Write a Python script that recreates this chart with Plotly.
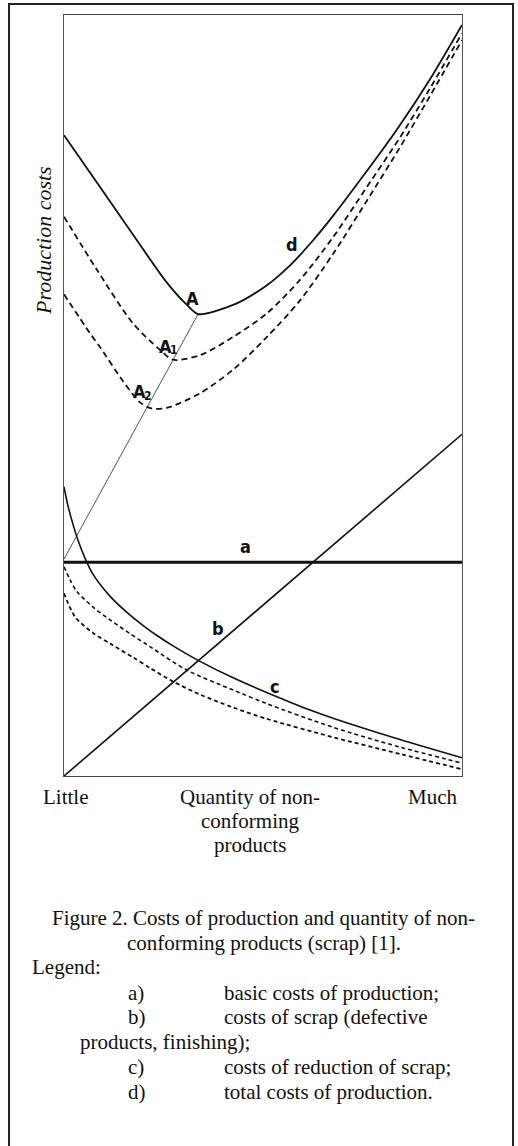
import plotly.graph_objects as go

# ---------------- data (conceptual units 0..100) ----------------
d_x = [0, 9.05, 19.1, 25.9, 30.9, 33.7, 42.5, 51.0, 56.8, 62.6, 67.6, 75.1, 83.7, 92.0, 100]
d_y = [84.2, 77.4, 69.8, 64.8, 61.9, 60.7, 61.9, 64.5, 67.1, 70.4, 73.6, 78.8, 85.0, 91.6, 98.7]

d1_x = [0, 8.3, 17.3, 24.1, 27.4, 34.2, 42.5, 51.0, 59.3, 67.6, 76.1, 84.4, 92.0, 100]
d1_y = [73.5, 66.5, 59.5, 56.0, 54.7, 55.3, 57.7, 60.8, 65.2, 70.8, 77.4, 83.9, 90.4, 97.6]

d2_x = [0, 6.5, 9.0, 14.8, 19.1, 22.0, 26.0, 34.2, 42.5, 51.0, 59.3, 67.6, 76.1, 84.4, 92.0, 100]
d2_y = [63.3, 58.2, 56.4, 51.9, 49.1, 48.3, 48.4, 50.3, 53.4, 57.7, 62.5, 68.6, 75.6, 82.6, 89.4, 96.7]

c_x = [0, 1.0, 2.3, 3.5, 5.3, 7.3, 11.6, 15.8, 19.8, 24.1, 27.4, 33.7, 42.5, 53.5, 60.1, 67.6, 84.4, 100]
c_y = [38.0, 35.5, 33.0, 31.0, 28.6, 26.5, 23.6, 21.5, 19.8, 18.2, 17.1, 15.2, 12.9, 10.4, 9.0, 7.6, 4.8, 2.4]

c1_x = [0, 1.5, 3.3, 7.3, 11.6, 16.6, 21.6, 30.9, 42.5, 51.0, 67.6, 84.4, 100]
c1_y = [27.5, 25.8, 24.2, 22.2, 20.5, 18.7, 17.0, 13.9, 11.3, 9.5, 6.4, 3.8, 1.7]

c2_x = [0, 2.8, 7.3, 11.6, 17.3, 21.6, 27.1, 34.2, 42.5, 51.0, 67.6, 84.4, 100]
c2_y = [24.0, 20.9, 18.8, 17.4, 15.6, 14.2, 12.5, 10.7, 9.0, 7.5, 5.1, 2.9, 0.9]

a_x = [0, 100]
a_y = [28.1, 28.1]

b_x = [0, 100]
b_y = [0, 44.9]

opt_x = [0, 33.7]
opt_y = [28.5, 60.7]

curve_labels = ["A", "A", "A", "d", "a", "b", "c"]
curve_label_x = [32.4, 25.6, 19.0, 57.3, 45.7, 38.7, 53.0]
curve_label_y = [62.7, 56.5, 50.5, 69.8, 30.2, 19.4, 11.8]
sub_labels = ["1", "2"]
sub_label_x = [27.6, 21.0]
sub_label_y = [56.0, 50.0]

x_tick_vals = [0.5, 46.7, 92.7]
x_tick_text = ["Little", "Quantity of non-<br>conforming<br>products", "Much"]
y_title = "Production costs"

caption_lines = ["Figure 2. Costs of production and quantity of non-",
                 "conforming products (scrap) [1]."]
legend_title = "Legend:"
legend_keys = ["a)", "b)", "c)", "d)"]
legend_texts = ["basic costs of production;",
                "costs of scrap (defective",
                "costs of reduction of scrap;",
                "total costs of production."]
legend_wrap = "products, finishing);"

# ---------------- layout geometry ----------------
W, H = 518, 1146
L, R, T, B = 64, 462, 15, 776


def px(xp):
    return (xp - L) / (R - L)


def py(yp):
    return (B - yp) / (B - T)


INK = "#111111"
SERIF = "Liberation Serif, Times New Roman, serif"
NARROW = "Liberation Sans Narrow, Arial Narrow, DejaVu Sans Condensed, Liberation Sans, sans-serif"

fig = go.Figure()


def add_line(x, y, width, dash="solid", color=INK, spline=True):
    fig.add_trace(go.Scatter(
        x=x, y=y, mode="lines",
        line=dict(color=color, width=width, dash=dash,
                  shape="spline" if spline else "linear", smoothing=0.8),
        hoverinfo="skip", showlegend=False))


add_line(opt_x, opt_y, 1, color="#555555", spline=False)
add_line(a_x, a_y, 3, spline=False)
add_line(b_x, b_y, 1.6, spline=False)
add_line(d_x, d_y, 1.8)
add_line(d1_x, d1_y, 1.8, dash="6px,4px")
add_line(d2_x, d2_y, 1.8, dash="6px,4px")
add_line(c_x, c_y, 1.6)
add_line(c1_x, c1_y, 1.6, dash="4px,3px")
add_line(c2_x, c2_y, 1.8, dash="4px,3px")

annotations = []
for t, xv, yv in zip(curve_labels, curve_label_x, curve_label_y):
    annotations.append(dict(x=xv, y=yv, xref="x", yref="y", text="<b>" + t + "</b>",
                            showarrow=False, font=dict(family=NARROW, size=18, color=INK),
                            xanchor="center", yanchor="middle"))
for t, xv, yv in zip(sub_labels, sub_label_x, sub_label_y):
    annotations.append(dict(x=xv, y=yv, xref="x", yref="y", text="<b>" + t + "</b>",
                            showarrow=False, font=dict(family=NARROW, size=12, color=INK),
                            xanchor="center", yanchor="middle"))

# x tick labels (one annotation per line for tight spacing)
for xv, t in zip(x_tick_vals, x_tick_text):
    for i, line in enumerate(t.split("<br>")):
        annotations.append(dict(x=xv, y=py(797 + 24 * i), xref="x", yref="paper", text=line,
                                showarrow=False, font=dict(family=SERIF, size=21, color=INK),
                                xanchor="center", yanchor="middle"))

# y title
annotations.append(dict(x=px(43), y=py(241), xref="paper", yref="paper",
                        text="<i>" + y_title + "</i>", textangle=-90, showarrow=False,
                        font=dict(family=SERIF, size=22, color=INK),
                        xanchor="center", yanchor="middle"))

# caption
for i, line in enumerate(caption_lines):
    annotations.append(dict(x=px(263.5), y=py(918 + 25 * i), xref="paper", yref="paper",
                            text=line, showarrow=False,
                            font=dict(family=SERIF, size=21, color=INK),
                            xanchor="center", yanchor="middle"))

annotations.append(dict(x=px(30), y=py(967), xref="paper", yref="paper", text=legend_title,
                        showarrow=False, font=dict(family=SERIF, size=21, color=INK),
                        xanchor="left", yanchor="middle"))

leg_rows = [993, 1017, 1067, 1092]
for k, t, yr in zip(legend_keys, legend_texts, leg_rows):
    annotations.append(dict(x=px(126), y=py(yr), xref="paper", yref="paper", text=k,
                            showarrow=False, font=dict(family=SERIF, size=21, color=INK),
                            xanchor="left", yanchor="middle"))
    annotations.append(dict(x=px(222), y=py(yr), xref="paper", yref="paper", text=t,
                            showarrow=False, font=dict(family=SERIF, size=21, color=INK),
                            xanchor="left", yanchor="middle"))
annotations.append(dict(x=px(78), y=py(1042), xref="paper", yref="paper", text=legend_wrap,
                        showarrow=False, font=dict(family=SERIF, size=21, color=INK),
                        xanchor="left", yanchor="middle"))

# outer border (open at bottom)
shapes = [
    dict(type="line", xref="paper", yref="paper", x0=px(9), x1=px(9), y0=py(4), y1=py(1150),
         line=dict(color="#222222", width=2)),
    dict(type="line", xref="paper", yref="paper", x0=px(513), x1=px(513), y0=py(4), y1=py(1150),
         line=dict(color="#222222", width=2)),
    dict(type="line", xref="paper", yref="paper", x0=px(8), x1=px(514), y0=py(4), y1=py(4),
         line=dict(color="#222222", width=2)),
]

fig.update_layout(
    width=W, height=H,
    margin=dict(l=L, r=W - R, t=T, b=H - B, pad=0),
    paper_bgcolor="white", plot_bgcolor="white",
    showlegend=False,
    annotations=annotations,
    shapes=shapes,
    xaxis=dict(range=[0, 100], showgrid=False, zeroline=False, showticklabels=False,
               ticks="", showline=True, mirror=True, linecolor="#444444", linewidth=1.2,
               fixedrange=True),
    yaxis=dict(range=[0, 100], showgrid=False, zeroline=False, showticklabels=False,
               ticks="", showline=True, mirror=True, linecolor="#555555", linewidth=1,
               fixedrange=True),
)

fig.write_html("out.html", config={"displayModeBar": False},
               post_script="document.body.style.margin='0';document.body.style.overflow='hidden';")
